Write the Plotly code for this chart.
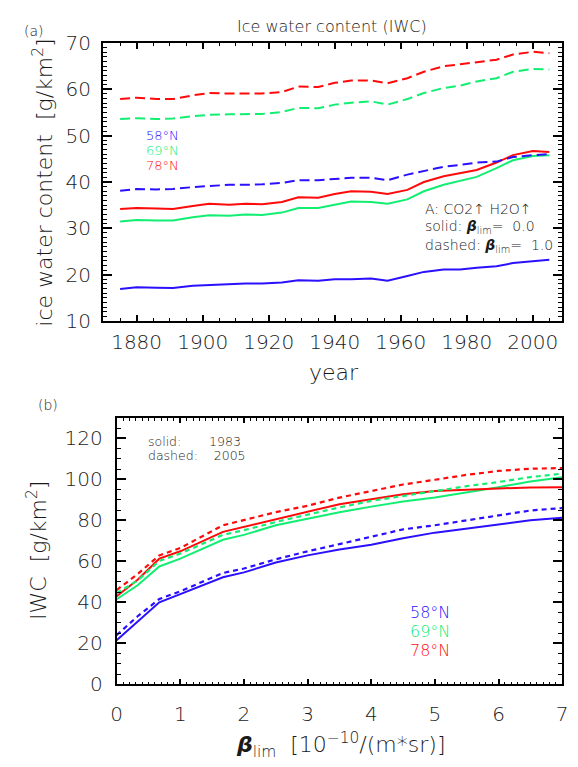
import plotly.graph_objects as go

# ---------------- data: panel (a), IWC time series ----------------
years = [1875, 1880, 1886, 1891, 1897, 1902, 1908, 1913, 1918, 1924, 1929, 1935,
         1940, 1945, 1951, 1956, 1962, 1967, 1973, 1978, 1983, 1989, 1994, 2000, 2005]

iwc58_solid = [16.9, 17.3, 17.2, 17.15, 17.6, 17.8, 18.0, 18.1, 18.1, 18.3, 18.8, 18.7,
               19.0, 19.0, 19.2, 18.7, 19.7, 20.6, 21.1, 21.1, 21.5, 21.8, 22.5, 22.85, 23.2]
iwc69_solid = [31.5, 31.8, 31.7, 31.7, 32.4, 32.8, 32.7, 33.0, 32.9, 33.4, 34.4, 34.4,
               35.1, 35.8, 35.7, 35.3, 36.25, 38.0, 39.4, 40.2, 41.1, 43.0, 44.7, 45.6, 45.8]
iwc78_solid = [34.2, 34.4, 34.3, 34.2, 34.8, 35.3, 35.1, 35.3, 35.2, 35.7, 36.7, 36.6,
               37.4, 38.0, 37.9, 37.4, 38.3, 40.0, 41.25, 41.9, 42.6, 44.2, 45.8, 46.7, 46.5]
iwc58_dashed = [38.1, 38.5, 38.4, 38.5, 38.9, 39.2, 39.4, 39.4, 39.5, 39.8, 40.4, 40.4,
                40.7, 40.9, 40.9, 40.4, 41.6, 42.4, 43.3, 43.7, 44.2, 44.4, 45.4, 45.8, 46.0]
iwc69_dashed = [53.6, 53.75, 53.6, 53.7, 54.2, 54.5, 54.6, 54.65, 54.7, 55.1, 56.0, 55.9,
                56.7, 57.1, 57.4, 56.7, 57.9, 59.2, 60.3, 60.8, 61.7, 62.4, 63.8, 64.4, 64.3]
iwc78_dashed = [57.9, 58.2, 57.9, 57.9, 58.7, 59.2, 59.1, 59.1, 59.1, 59.4, 60.6, 60.5,
                61.4, 61.9, 61.9, 61.3, 62.4, 63.8, 65.0, 65.4, 65.9, 66.4, 67.5, 68.1, 67.8]

# ---------------- data: panel (b), IWC vs beta_lim ----------------
beta_lim = [0, 0.33, 0.67, 1, 1.67, 2, 2.5, 3, 3.5, 4, 4.5, 5, 5.5, 6, 6.5, 7]

b58_1983 = [21.5, 30.8, 40.0, 44.0, 52.2, 54.6, 59.4, 62.9, 65.8, 68.1, 71.3, 74.0, 76.0, 78.1, 80.0, 81.3]
b69_1983 = [41.5, 48.3, 57.5, 61.3, 70.5, 72.9, 77.6, 80.8, 84.0, 86.7, 89.2, 91.1, 93.5, 96.2, 99.0, 101.0]
b78_1983 = [43.0, 51.0, 61.3, 64.9, 74.4, 76.8, 80.5, 84.3, 87.9, 90.3, 92.7, 94.3, 95.1, 95.6, 96.0, 96.1]
b58_2005 = [24.0, 33.2, 41.6, 45.4, 54.3, 56.5, 61.0, 64.9, 68.4, 72.1, 75.6, 77.6, 80.0, 82.4, 84.8, 86.0]
b69_2005 = [44.5, 50.6, 60.2, 63.8, 72.9, 75.2, 79.2, 82.9, 86.3, 89.5, 91.9, 94.3, 96.7, 98.7, 101.1, 102.8]
b78_2005 = [46.0, 53.8, 62.9, 66.5, 77.6, 80.0, 84.0, 87.1, 91.1, 94.3, 97.5, 99.8, 102.2, 104.1, 105.2, 105.5]

lat_labels = ["58°N", "69°N", "78°N"]

BLUE = "#2a10ff"
GREEN = "#12ee72"
RED = "#ff0a0a"
colors = [BLUE, GREEN, RED]

W, H = 578, 767
FONT = "DejaVu Sans"
WEIGHT = 200
TXT = "#1a1a1a"


def px(x):
    return x / W


def py(y):
    return 1 - y / H


fig = go.Figure()

# panel (a)
for ys, c in zip([iwc58_solid, iwc69_solid, iwc78_solid], colors):
    fig.add_trace(go.Scatter(x=years, y=ys, mode="lines", xaxis="x", yaxis="y",
                             line=dict(color=c, width=2)))
for ys, c in zip([iwc58_dashed, iwc69_dashed, iwc78_dashed], colors):
    fig.add_trace(go.Scatter(x=years, y=ys, mode="lines", xaxis="x", yaxis="y",
                             line=dict(color=c, width=2, dash="10px,5px")))

# panel (b)
for ys, c in zip([b58_1983, b69_1983, b78_1983], colors):
    fig.add_trace(go.Scatter(x=beta_lim, y=ys, mode="lines", xaxis="x2", yaxis="y2",
                             line=dict(color=c, width=2)))
for ys, c in zip([b58_2005, b69_2005, b78_2005], colors):
    fig.add_trace(go.Scatter(x=beta_lim, y=ys, mode="lines", xaxis="x2", yaxis="y2",
                             line=dict(color=c, width=2.2, dash="5px,4px")))


def axis(rng, dtick, tick0, minor_dtick, ticklen, domain, anchor, standoff):
    return dict(
        range=rng, dtick=dtick, tick0=tick0, domain=domain, anchor=anchor,
        showgrid=False, zeroline=False, showline=True, linecolor="black", linewidth=2,
        mirror="allticks", ticks="inside", ticklen=ticklen, tickwidth=1.5, tickcolor="black",
        minor=dict(dtick=minor_dtick, ticks="inside", ticklen=ticklen / 2, tickwidth=1.2,
                   tickcolor="black", showgrid=False),
        tickfont=dict(family=FONT, size=20, color=TXT, weight=WEIGHT),
        ticklabelstandoff=standoff,
    )


fig.update_layout(
    width=W, height=H, margin=dict(l=0, r=0, t=0, b=0),
    paper_bgcolor="white", plot_bgcolor="white", showlegend=False,
    xaxis=axis([1869.8, 2008.9], 20, 1880, 5, 6, [px(99), px(568)], "y", 2),
    yaxis=axis([10, 70], 10, 10, 1, 9, [py(319), py(32)], "x", 6),
    xaxis2=axis([0, 7], 1, 0, 0.1, 5.5, [px(113), px(568)], "y2", 11),
    yaxis2=axis([0, 130], 20, 0, 5, 9, [py(694), py(419)], "x2", 8),
)

ann = []


def text(x, y, s, size=15, color=TXT, xanchor="left", angle=0):
    ann.append(dict(x=px(x), y=py(y), xref="paper", yref="paper", text=s, showarrow=False,
                    xanchor=xanchor, yanchor="middle", textangle=angle,
                    font=dict(family=FONT, size=size, color=color, weight=WEIGHT)))


# panel labels and titles
text(16, 20, "(a)", 14)
text(333, 15, "Ice water content (IWC)", 16, xanchor="center")
text(38, 176, "ice water content  [g/km<sup>2</sup>]", 22, xanchor="center", angle=-90)
text(335, 372, "year", 22, xanchor="center")

text(31, 406, "(b)", 14)
text(31, 556, "IWC  [g/km<sup>2</sup>]", 22, xanchor="center", angle=-90)
text(342, 757, "<b><i>β</i></b><sub>lim</sub>  [10<sup>−10</sup>/(m*sr)]", 22, xanchor="center")

# latitude keys
for i, (lab, c) in enumerate(zip(lat_labels, colors)):
    text(141, 127 + 15.5 * i, lab, 13, color=c)
    text(411, 620 + 19.5 * i, lab, 16, color=c)

# experiment notes
text(426, 203, "A: CO2↑ H2O↑", 14)
text(426, 222, "solid: <b><i>β</i></b><sub>lim</sub>=  0.0", 14)
text(426, 242, "dashed: <b><i>β</i></b><sub>lim</sub>=  1.0", 14)

text(143, 443, "solid:       1983", 12.5)
text(143, 458, "dashed:    2005", 12.5)

fig.update_layout(annotations=ann)
fig.write_html("out.html")
